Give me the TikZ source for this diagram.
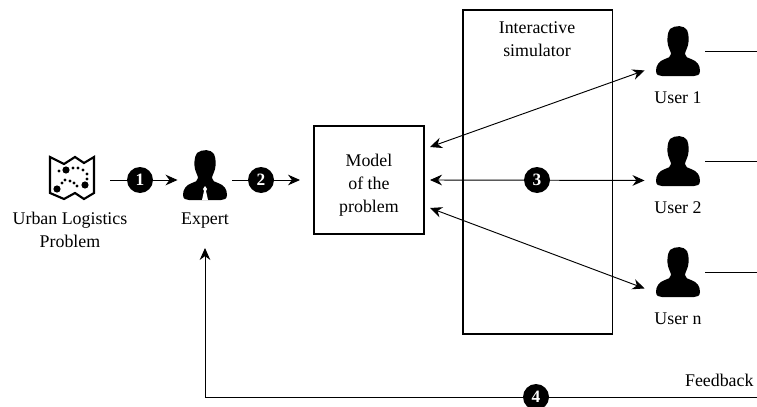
\documentclass[tikz,border=0pt]{standalone}
\usepackage{fontspec}
\setmainfont{Liberation Serif}
\usetikzlibrary{arrows.meta}
\tikzset{
  diagram/.style={x=0.75pt,y=-0.75pt,font=\fontsize{13.4}{17.3}\selectfont,line width=0.7pt},
  badge/.style={circle,fill=black,text=white,inner sep=0pt,minimum size=19.5pt,font=\fontsize{13}{13}\selectfont\bfseries},
  arrowline/.style={-{Stealth[length=9pt,width=8pt]}},
  bothline/.style={{Stealth[length=9pt,width=8pt]}-{Stealth[length=9pt,width=8pt]}},
  frame/.style={draw,line width=1pt},
  iconbox/.style={inner sep=0pt,minimum width=45pt,minimum height=28.5pt},
  caption/.style={align=center},
  person/.pic={
    \fill (-8,-22) .. controls (-3,-26) and (6,-26) .. (9,-21)
          .. controls (11,-17) and (11,-10) .. (10,-6)
          .. controls (9,-2) and (7,1) .. (7,3)
          .. controls (7,6) and (10,7) .. (13,8)
          .. controls (19,10) and (22,14) .. (22,20)
          .. controls (22,24) and (19,25) .. (16,25)
          -- (-16,25) .. controls (-19,25) and (-22,24) .. (-22,20)
          .. controls (-22,14) and (-19,10) .. (-13,8)
          .. controls (-10,7) and (-7,6) .. (-7,3)
          .. controls (-7,1) and (-9,-2) .. (-10,-6)
          .. controls (-11,-10) and (-11,-18) .. (-8,-22) -- cycle;
  }
}
\begin{document}
\begin{tikzpicture}[diagram]
  \useasboundingbox (0,0) rectangle (757,407);
  %map icon
  \draw [line width=1.6pt,line join=miter] (50,157) -- (64,164) -- (75,157) -- (84,163) -- (94,157)
        -- (94,193) -- (84,199) -- (75,193) -- (64,199) -- (50,193) -- cycle;
  \fill (66,170) circle (3.6) (85,185) circle (3.6) (57,189) circle (3.6);
  \foreach \dotx/\doty in {59/171,73/168,78/168,83/170,87/174,87/179,
                           62/183,65/180,70/181,74/183,77/186}
    \fill (\dotx,\doty) circle (1.6);
  %icons
  \pic at (205,175) {person};
  \fill [white] (205,186) -- (207,189) -- (206,191) -- (208,200) -- (202,200) -- (204,191) -- (203,189) -- cycle;
  \pic at (678,51) {person};
  \pic at (678,161) {person};
  \pic at (678,272) {person};
  %anchors of the icons
  \node (map) [iconbox,minimum width=58.5pt] at (71,180) {};
  \node (expert) [iconbox,minimum width=40.5pt] at (205,180) {};
  \node (user1) [iconbox] at (675,51) {};
  \node (user2) [iconbox] at (675,161) {};
  \node (usern) [iconbox,minimum height=24pt] at (675,272) {};
  %boxes
  \node (model) [frame,minimum width=82.5pt,minimum height=81pt] at (369,180) {};
  \node (simulator) [frame,minimum width=112pt,minimum height=243pt] at (537.5,172) {};
  \node (modeltext) [caption] at (369,185) {Model\\of the\\problem};
  \node (simtext) [caption] at (537,39) {Interactive\\simulator};
  %captions
  \node (maptext) [caption] at (70,230) {Urban Logistics\\Problem};
  \node (experttext) [caption] at (205,221) {Expert};
  \node (user1text) [caption] at (678,98) {User 1};
  \node (user2text) [caption] at (678,208) {User 2};
  \node (userntext) [caption] at (678,319) {User n};
  \node (feedback) [caption,anchor=east,inner sep=0pt] at (754,380) {Feedback};
  %free ends
  \coordinate (modela) at (430,147);
  \coordinate (modelb) at (430,180);
  \coordinate (modelc) at (430,208);
  \coordinate (modelin) at (300,180);
  \coordinate (out1) at (757,51);
  \coordinate (out2) at (757,161);
  \coordinate (outn) at (757,272);
  \coordinate (fbin) at (757,397);
  \coordinate (fbcorner) at (205,397);
  \coordinate (fbend) at (205,248);
  %arrows
  \draw [arrowline] (map.east) -- (expert.west);
  \draw [arrowline] (expert.east) -- (modelin);
  \draw [bothline] (modela) -- (user1.south west);
  \draw [bothline] (modelb) -- (user2.south west);
  \draw [bothline] (modelc) -- (usern.south west);
  \draw (user1.east) -- (out1);
  \draw (user2.east) -- (out2);
  \draw (usern.east) -- (outn);
  \draw [arrowline] (fbin) -- (fbcorner) -- (fbend);
  %numbers
  \node (badge1) [badge] at (140,180) {1};
  \node (badge2) [badge] at (261,180) {2};
  \node (badge3) [badge] at (537,180) {3};
  \node (badge4) [badge] at (536,397) {4};
\end{tikzpicture}
\end{document}
